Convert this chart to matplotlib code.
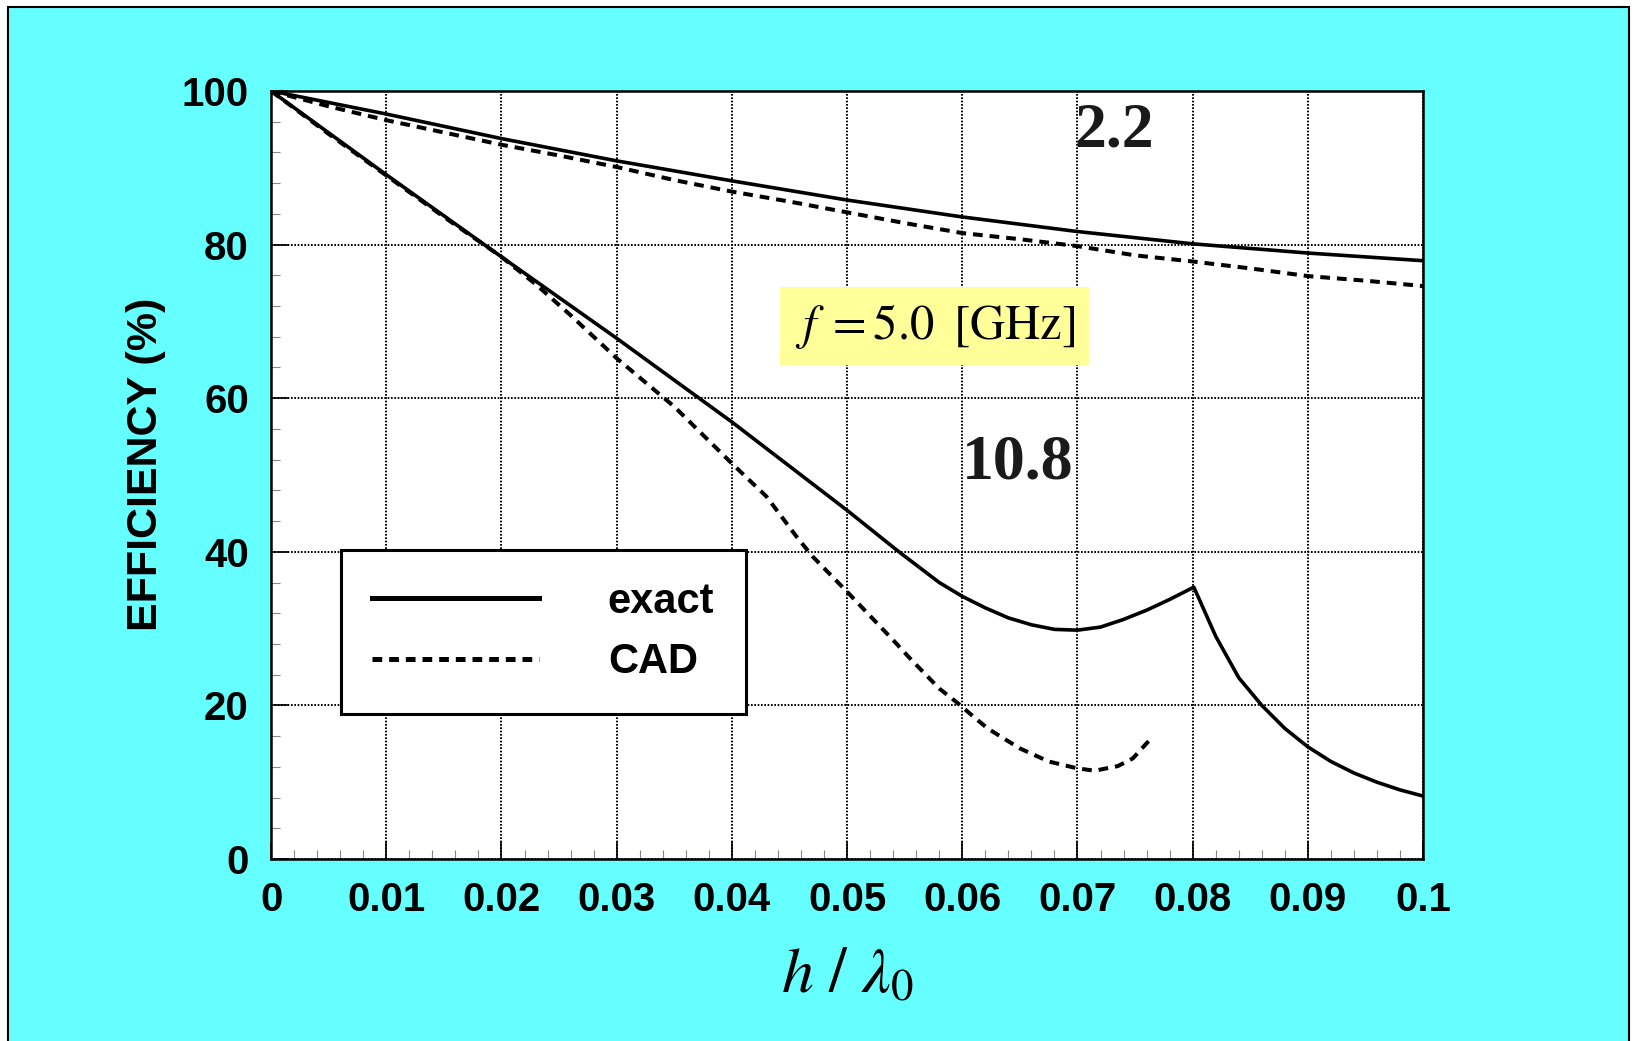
import matplotlib
matplotlib.use("Agg")
import matplotlib.pyplot as plt
from matplotlib.patches import Rectangle
from matplotlib.ticker import MultipleLocator, FixedLocator

# ---- data ----
# eps_r = 2.2, exact
x_exact_22 = [0, 0.01, 0.02, 0.03, 0.04, 0.05, 0.06, 0.07, 0.08, 0.09, 0.1]
eff_exact_22 = [100, 97.0, 93.8, 90.9, 88.3, 85.8, 83.6, 81.7, 80.1, 78.9, 77.9]

# eps_r = 2.2, CAD
x_cad_22 = [0, 0.005, 0.01, 0.015, 0.02, 0.025, 0.03, 0.035, 0.04, 0.045, 0.05,
            0.055, 0.06, 0.065, 0.07, 0.075, 0.08, 0.085, 0.09, 0.095, 0.1]
eff_cad_22 = [100, 98.0, 96.2, 94.6, 93.0, 91.6, 90.1, 88.4, 86.9, 85.6, 84.2,
              82.8, 81.5, 80.7, 79.8, 78.6, 77.8, 76.9, 75.9, 75.3, 74.6]

# eps_r = 10.8, exact
x_exact_108 = [0, 0.01, 0.02, 0.03, 0.04, 0.05, 0.0545, 0.058, 0.06, 0.062, 0.064,
               0.066, 0.068, 0.07, 0.072, 0.074, 0.076, 0.078, 0.0801, 0.082, 0.084,
               0.086, 0.088, 0.09, 0.092, 0.094, 0.096, 0.098, 0.1]
eff_exact_108 = [100, 89.1, 78.4, 67.8, 56.9, 45.4, 40.0, 36.0, 34.2, 32.7, 31.4,
                 30.5, 29.9, 29.8, 30.2, 31.2, 32.4, 33.8, 35.4, 29.0, 23.6,
                 20.0, 17.0, 14.6, 12.7, 11.2, 10.0, 9.0, 8.2]

# eps_r = 10.8, CAD
x_cad_108 = [0, 0.005, 0.01, 0.015, 0.02, 0.023, 0.026, 0.03, 0.035, 0.04, 0.043,
             0.0456, 0.047, 0.050, 0.054, 0.0556, 0.058, 0.0596, 0.061, 0.0622,
             0.065, 0.0675, 0.07, 0.0715, 0.0735, 0.0748, 0.0762]
eff_cad_108 = [100, 94.4, 89.0, 83.6, 78.4, 74.8, 70.8, 65.2, 58.9, 51.5, 47.2,
               42.0, 39.4, 34.8, 28.5, 25.9, 22.2, 20.3, 18.5, 17.0,
               14.4, 12.7, 11.8, 11.5, 12.1, 13.1, 15.4]

x_ticks = [0, 0.01, 0.02, 0.03, 0.04, 0.05, 0.06, 0.07, 0.08, 0.09, 0.1]
x_ticklabels = ['0', '0.01', '0.02', '0.03', '0.04', '0.05', '0.06', '0.07', '0.08', '0.09', '0.1']
y_ticks = [0, 20, 40, 60, 80, 100]
y_ticklabels = ['0', '20', '40', '60', '80', '100']

plt.rcParams['mathtext.fontset'] = 'stix'
plt.rcParams['lines.scale_dashes'] = False

fig = plt.figure(figsize=(16.35, 10.41), dpi=100, facecolor='white')
# cyan slide background with thin black frame
fig.patches.append(Rectangle((8 / 1635, -0.01), 1621 / 1635, 1.0033,
                             transform=fig.transFigure, facecolor='#66FFFF',
                             edgecolor='black', linewidth=1.5, zorder=-10))

ax = fig.add_axes([0.1658, 0.1748, 0.7046, 0.7378])
ax.set_facecolor('white')

dash = (0, (7, 5))
ax.plot(x_exact_108, eff_exact_108, color='black', lw=2.6, label='exact')
ax.plot(x_cad_108, eff_cad_108, color='black', lw=2.9, linestyle=dash, label='CAD')
ax.plot(x_exact_22, eff_exact_22, color='black', lw=2.6)
ax.plot(x_cad_22, eff_cad_22, color='black', lw=2.9, linestyle=dash)

ax.set_xlim(0, 0.1)
ax.set_ylim(0, 100)
ax.xaxis.set_major_locator(FixedLocator(x_ticks))
ax.set_xticklabels(x_ticklabels)
ax.yaxis.set_major_locator(FixedLocator(y_ticks))
ax.set_yticklabels(y_ticklabels)
ax.xaxis.set_minor_locator(MultipleLocator(0.002))
ax.yaxis.set_minor_locator(MultipleLocator(4))

ax.set_axisbelow(True)
ax.grid(True, which='major', color='black', linestyle=(0, (1.2, 1.2)), linewidth=1.4)

ax.tick_params(which='major', direction='in', length=12, width=1.2, color='black', pad=16)
ax.tick_params(which='minor', direction='in', length=6.5, width=0.8, color='#888888')
for lab in ax.get_xticklabels() + ax.get_yticklabels():
    lab.set_fontfamily('Liberation Sans')
    lab.set_fontweight('bold')
    lab.set_fontsize(29)

for s in ax.spines.values():
    s.set_linewidth(1.8)
    s.set_color('black')

ax.set_ylabel('EFFICIENCY (%)', family='Liberation Sans', weight='bold', fontsize=31)
ax.yaxis.set_label_coords(-0.091, 0.514)
ax.set_xlabel(r'$h\ /\ \lambda_0$', fontsize=46, labelpad=17)

# curve labels
ax.text(0.0732, 94.7, '2.2', family='Liberation Serif', weight='bold', fontsize=46,
        color='#1a1a1a', ha='center', va='center')
ax.text(0.0648, 51.5, '10.8', family='Liberation Serif', weight='bold', fontsize=46,
        color='#1a1a1a', ha='center', va='center')

# frequency box
ax.text(0.0576, 69.4, r'$f\;=5.0\;\;\left[\mathrm{GHz}\right]$', fontsize=35,
        ha='center', va='center',
        bbox=dict(boxstyle='square,pad=0.3', facecolor='#FFFF99', edgecolor='none'))

leg = ax.legend(loc='upper left', bbox_to_anchor=(0.0608, 0.402), borderaxespad=0,
                prop={'family': 'Liberation Sans', 'weight': 'bold', 'size': 30},
                handlelength=4.0, handletextpad=1.65, borderpad=0.75, labelspacing=0.5,
                fancybox=False, framealpha=1, edgecolor='black')
leg.get_frame().set_linewidth(2.2)
for ln in leg.get_lines():
    ln.set_linewidth(3.6)

fig.savefig('out.png', dpi=100, facecolor='white')
